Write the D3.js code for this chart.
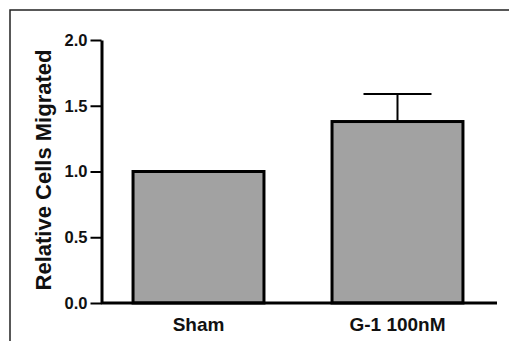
<!DOCTYPE html>
<html>
<head>
<meta charset="utf-8">
<script src="https://cdn.jsdelivr.net/npm/d3@7"></script>
<style>
  html, body { margin: 0; padding: 0; background: #fff; }
  svg { display: block; }
  text { font-family: "Liberation Sans", Arial, sans-serif; font-weight: bold; fill: #111; }
</style>
</head>
<body>
<div id="chart"></div>
<script>
// Relative migration per treatment group (mean with SEM)
const groups = ["Sham", "G-1 100nM"];
const means = [1.0, 1.38];
const errors = [0, 0.21];
const yTicks = [0.0, 0.5, 1.0, 1.5, 2.0];
const yLabel = "Relative Cells Migrated";

const W = 509, H = 341;
const svg = d3.select("#chart").append("svg").attr("width", W).attr("height", H);

// outer frame
svg.append("rect")
  .attr("x", 10).attr("y", 10).attr("width", 520).attr("height", 360)
  .attr("fill", "none").attr("stroke", "#222").attr("stroke-width", 1.5);

const y = d3.scaleLinear().domain([0, 2]).range([303, 40]);
const x = d3.scaleBand().domain(groups).range([101, 495])
  .paddingInner(0.342).paddingOuter(0.161);

// bars
svg.append("g").selectAll("rect").data(groups).join("rect")
  .attr("x", d => x(d))
  .attr("y", (d, i) => y(means[i]))
  .attr("width", x.bandwidth())
  .attr("height", (d, i) => y(0) - y(means[i]))
  .attr("fill", "#a2a2a2")
  .attr("stroke", "#000")
  .attr("stroke-width", 3);

// error bars (upper only)
const eb = svg.append("g").attr("stroke", "#000").attr("stroke-width", 2);
groups.forEach((g, i) => {
  if (!errors[i]) return;
  const cx = x(g) + x.bandwidth() / 2;
  eb.append("line").attr("x1", cx).attr("x2", cx)
    .attr("y1", y(means[i])).attr("y2", y(means[i] + errors[i]));
  eb.append("line").attr("x1", cx - 34).attr("x2", cx + 34)
    .attr("y1", y(means[i] + errors[i])).attr("y2", y(means[i] + errors[i]));
});

// x axis baseline
svg.append("line")
  .attr("x1", 101).attr("x2", 497).attr("y1", y(0)).attr("y2", y(0))
  .attr("stroke", "#000").attr("stroke-width", 3);

// y axis
const yAxis = svg.append("g").attr("transform", "translate(101.5,0)")
  .call(d3.axisLeft(y).tickValues(yTicks).tickFormat(d3.format(".1f"))
    .tickSize(11).tickSizeOuter(0).tickPadding(3));
yAxis.select(".domain").attr("stroke", "#000").attr("stroke-width", 3);
yAxis.selectAll(".tick line").attr("stroke", "#000").attr("stroke-width", 2);
yAxis.selectAll(".tick text")
  .style("font-size", "16.5px").style("font-family", "'Liberation Sans', Arial, sans-serif")
  .style("font-weight", "bold").attr("fill", "#111");

// category labels
svg.append("g").selectAll("text").data(groups).join("text")
  .attr("x", d => x(d) + x.bandwidth() / 2)
  .attr("y", 331)
  .attr("text-anchor", "middle")
  .style("font-size", "19px")
  .text(d => d);

// y axis title
svg.append("text")
  .attr("transform", "translate(51,170) rotate(-90)")
  .attr("text-anchor", "middle")
  .style("font-size", "22px")
  .text(yLabel);
</script>
</body>
</html>
